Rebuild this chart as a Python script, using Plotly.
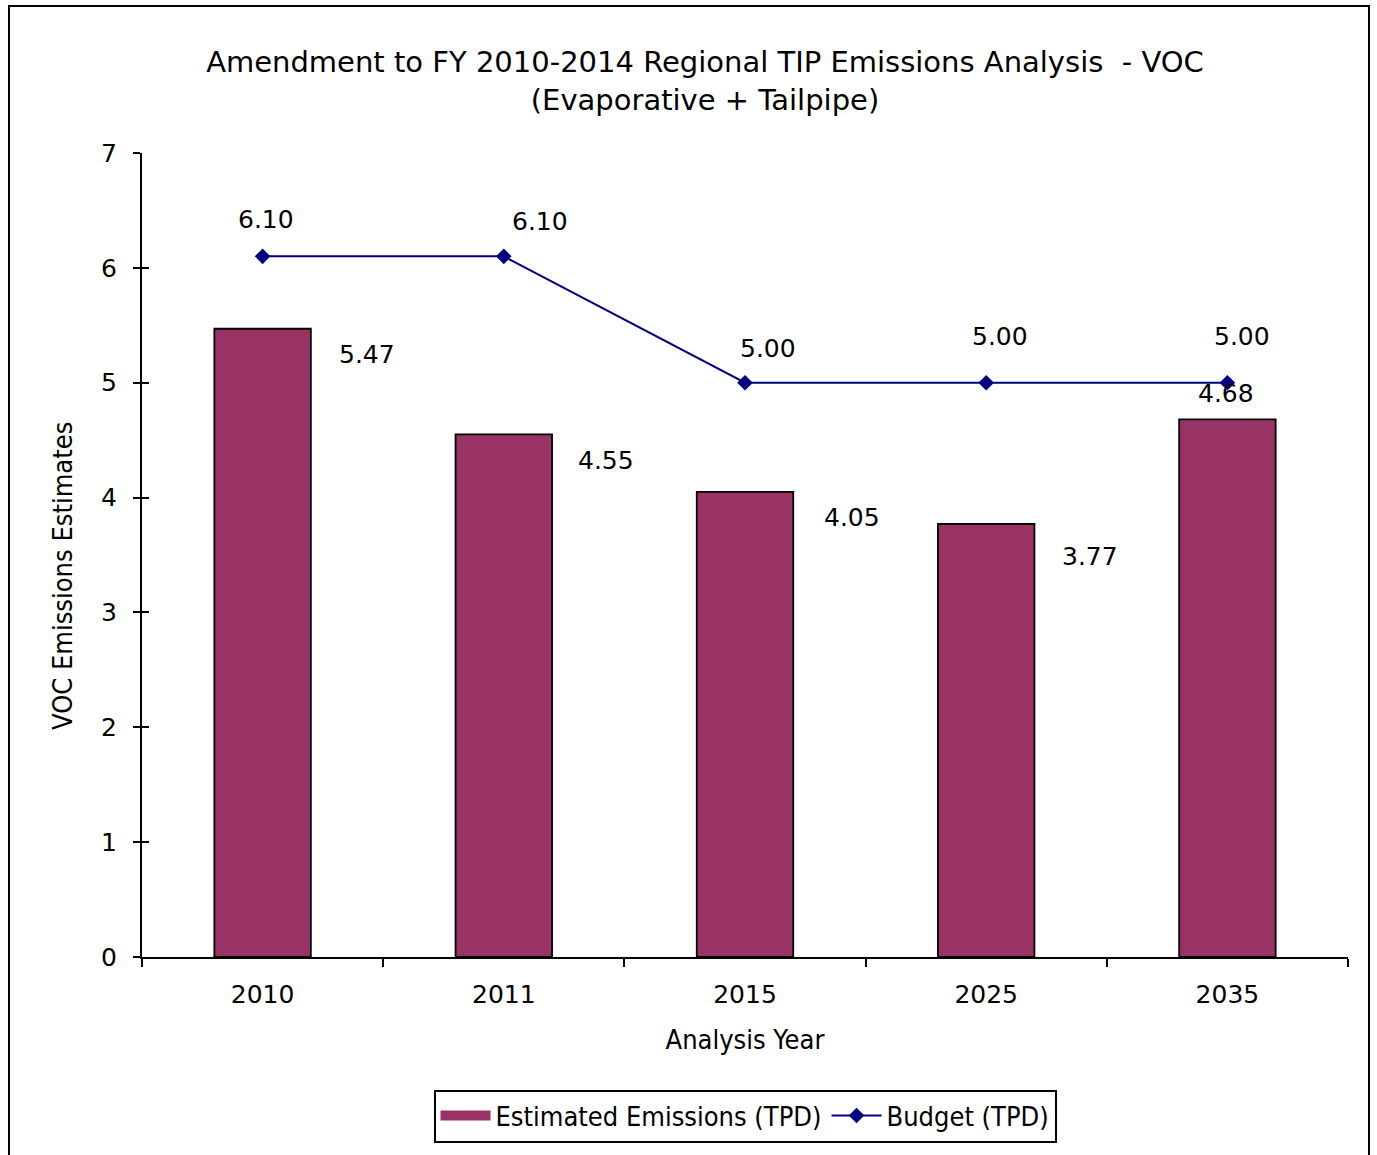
import plotly.graph_objects as go

years = ["2010", "2011", "2015", "2025", "2035"]
emissions = [5.47, 4.55, 4.05, 3.77, 4.68]
budget = [6.10, 6.10, 5.00, 5.00, 5.00]
y_ticks = [0, 1, 2, 3, 4, 5, 6, 7]

# label offsets (pixels) mimicking the original placement
em_dx = [104, 102, 107, 104, -1]
em_dy = [-26, -26, -26, -33, 26]
bu_dx = [3, 36, 23, 14, 15]
bu_dy = [37, 35, 34, 46, 46]

FONT = "DejaVu Sans, Verdana, sans-serif"
FONT_C = "DejaVu Sans Condensed, DejaVu Sans, sans-serif"
BAR = "#993366"
LINE = "#000080"

W, H = 1377, 1155
L, T = 142, 153
R = W - 1348
B = H - 957
pw, ph = W - L - R, H - T - B


def px(x):
    return (x - L) / pw


def py(y):
    return (H - B - y) / ph


fig = go.Figure()
# legend-only entry giving a wide bar swatch like the original
fig.add_trace(go.Scatter(
    x=[None], y=[None], mode="lines", name="Estimated Emissions (TPD)",
    line=dict(color=BAR, width=16), legendgroup="em", hoverinfo="skip",
))
fig.add_trace(go.Bar(
    x=years, y=emissions, name="Estimated Emissions (TPD)",
    marker=dict(color=BAR, line=dict(color="black", width=1.8)),
    width=0.4, showlegend=False, legendgroup="em",
))
fig.add_trace(go.Scatter(
    x=years, y=budget, name="Budget (TPD)", mode="lines+markers",
    line=dict(color=LINE, width=2),
    marker=dict(symbol="diamond", size=12, color=LINE),
))
# invisible trace to activate the overlay axis that draws the inner half of y ticks
fig.add_trace(go.Scatter(x=[years[0]], y=[0], yaxis="y2", mode="markers",
                         marker=dict(opacity=0), showlegend=False, hoverinfo="skip"))

ann = []
for i in range(len(years)):
    ann.append(dict(x=i, y=emissions[i], xref="x", yref="y", text=f"{emissions[i]:.2f}",
                    showarrow=False, xshift=em_dx[i], yshift=em_dy[i],
                    font=dict(family=FONT, size=25, color="black")))
    ann.append(dict(x=i, y=budget[i], xref="x", yref="y", text=f"{budget[i]:.2f}",
                    showarrow=False, xshift=bu_dx[i], yshift=bu_dy[i],
                    font=dict(family=FONT, size=25, color="black")))
# y axis title, placed like the original (slightly below the plot centre)
ann.append(dict(x=px(62), y=py(576), xref="paper", yref="paper", text="VOC Emissions Estimates",
                textangle=-90, showarrow=False, xanchor="center", yanchor="middle",
                font=dict(family=FONT_C, size=27, color="black")))

fig.update_layout(
    width=W, height=H,
    margin=dict(l=L, r=R, t=T, b=B),
    paper_bgcolor="white", plot_bgcolor="white",
    title=dict(text="Amendment to FY 2010-2014 Regional TIP Emissions Analysis  - VOC<br>(Evaporative + Tailpipe)",
               x=705 / W, xanchor="center", y=1 - 72 / H, yanchor="middle",
               font=dict(family=FONT, size=29, color="black")),
    xaxis=dict(type="category", tickson="boundaries", ticks="outside", ticklen=8,
               tickwidth=1.5, tickcolor="black", showline=True, linecolor="black",
               linewidth=2, showgrid=False, range=[-0.5, 4.5], ticklabelstandoff=14,
               tickfont=dict(family=FONT, size=25, color="black"),
               title=dict(text="Analysis Year", standoff=22,
                          font=dict(family=FONT_C, size=27, color="black"))),
    yaxis=dict(range=[0, 7], tickvals=y_ticks, ticks="outside", ticklen=7,
               tickwidth=1.5, tickcolor="black", showline=True, linecolor="black",
               linewidth=2, showgrid=False, zeroline=False, ticklabelstandoff=11,
               tickfont=dict(family=FONT, size=25, color="black")),
    yaxis2=dict(range=[0, 7], tickvals=y_ticks, ticks="inside", ticklen=7,
                tickwidth=1.5, tickcolor="black", showticklabels=False,
                overlaying="y", side="left", showgrid=False, zeroline=False,
                showline=False),
    showlegend=True,
    legend=dict(orientation="h", x=px(745), xanchor="center", y=py(1116), yanchor="middle",
                bordercolor="black", borderwidth=2, bgcolor="white",
                font=dict(family=FONT_C, size=27, color="black"),
                itemwidth=50, traceorder="normal"),
    annotations=ann,
    shapes=[dict(type="rect", xref="paper", yref="paper",
                 x0=px(9), x1=px(1369), y0=py(1170), y1=py(6),
                 line=dict(color="black", width=2), fillcolor="rgba(0,0,0,0)",
                 layer="below")],
)

fig.write_html("out.html", config={"displayModeBar": False},
               post_script="document.body.style.margin='0px';document.body.style.overflow='hidden';")
